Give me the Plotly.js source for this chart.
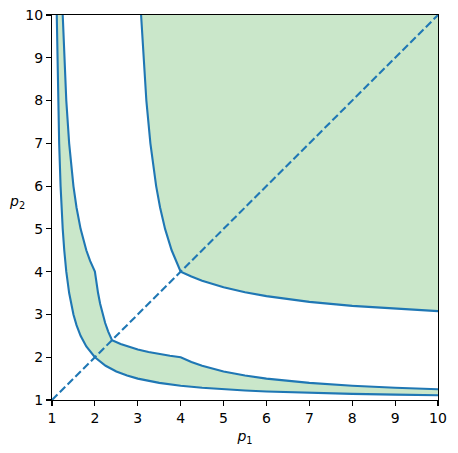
<!DOCTYPE html>
<html>
<head>
<meta charset="utf-8">
<script src="https://cdn.plot.ly/plotly-3.0.1.min.js"></script>
<style>html,body{margin:0;padding:0;background:#fff;}#chart{width:458px;height:453px;}</style>
</head>
<body>
<div id="chart"></div>
<script>
// Lower curve
var lowerX = [1.111,1.125,1.1429,1.1667,1.2,1.2222,1.25,1.2857,1.3333,1.4,1.5,1.5714,1.6667,1.8,2,2.25,2.5,2.75,3,3.5,4,4.5,5,5.5,6,7,8,9,10];
var lowerY = [10,9,8,7,6,5.5,5,4.5,4,3.5,3,2.75,2.5,2.25,2,1.8,1.6667,1.5714,1.5,1.4,1.3333,1.2857,1.25,1.2222,1.2,1.1667,1.1429,1.125,1.111];
// Middle curve (with kinks)
var middleX = [1.25,1.2857,1.3333,1.4,1.5,1.5714,1.6667,1.8,1.8889,2,2.0339,2.0741,2.1224,2.1818,2.24,2.3111,2.4,2.6,2.8,3,3.25,3.5,3.75,4,4.25,4.5,5,5.5,6,7,8,9,10];
var middleY = [10,9,8,7,6,5.5,5,4.5,4.25,4,3.75,3.5,3.25,3,2.8,2.6,2.4,2.3111,2.24,2.1818,2.1224,2.0741,2.0339,2,1.8889,1.8,1.6667,1.5714,1.5,1.4,1.3333,1.2857,1.25];
// Upper curve
var upperX = [3.0769,3.1304,3.2,3.2941,3.4286,3.52,3.6364,3.7895,3.8857,4,4.25,4.5,5,5.5,6,7,8,9,10];
var upperY = [10,9,8,7,6,5.5,5,4.5,4.25,4,3.8857,3.7895,3.6364,3.52,3.4286,3.2941,3.2,3.1304,3.0769];
// Diagonal
var diagX = [1,10];
var diagY = [1,10];
// Corner closing the upper region
var cornerX = [10];
var cornerY = [10];
var tickVals = [1,2,3,4,5,6,7,8,9,10];

var blue = '#1f77b4';
var fillC = 'rgba(44,160,44,0.25)';

var bandX = middleX.concat(lowerX.slice().reverse());
var bandY = middleY.concat(lowerY.slice().reverse());
var topX = upperX.concat(cornerX);
var topY = upperY.concat(cornerY);

var traces = [
  {x: bandX, y: bandY, mode: 'lines', fill: 'toself', fillcolor: fillC, line: {width: 0, color: 'rgba(0,0,0,0)'}, hoverinfo: 'skip'},
  {x: topX, y: topY, mode: 'lines', fill: 'toself', fillcolor: fillC, line: {width: 0, color: 'rgba(0,0,0,0)'}, hoverinfo: 'skip'},
  {x: lowerX, y: lowerY, mode: 'lines', line: {color: blue, width: 2.1}},
  {x: middleX, y: middleY, mode: 'lines', line: {color: blue, width: 2.1}},
  {x: upperX, y: upperY, mode: 'lines', line: {color: blue, width: 2.1}},
  {x: diagX, y: diagY, mode: 'lines', line: {color: blue, width: 2.1, dash: '7.7px,3.3px'}}
];

var axisCommon = {
  range: [1, 10],
  tickmode: 'array',
  tickvals: tickVals,
  ticktext: tickVals.map(String),
  ticks: 'outside',
  ticklen: 5,
  tickwidth: 1.1,
  tickcolor: '#000',
  showline: true,
  linecolor: '#000',
  linewidth: 1.1,
  mirror: true,
  showgrid: false,
  zeroline: false,
  tickfont: {family: 'DejaVu Sans', size: 14, color: '#000'}
};

var layout = {
  width: 458,
  height: 453,
  margin: {l: 52, r: 20, t: 15, b: 53},
  paper_bgcolor: '#fff',
  plot_bgcolor: '#fff',
  showlegend: false,
  xaxis: Object.assign({}, axisCommon, {
    title: {text: '<i>p</i><sub>1</sub>', font: {family: 'DejaVu Sans', size: 14, color: '#000'}, standoff: 6}
  }),
  yaxis: Object.assign({}, axisCommon, {}),
  annotations: [{
    text: '<i>p</i><sub>2</sub>',
    xref: 'paper', yref: 'paper',
    x: -0.09, y: 0.515,
    xanchor: 'center', yanchor: 'middle',
    showarrow: false,
    font: {family: 'DejaVu Sans', size: 14, color: '#000'}
  }]
};

Plotly.newPlot('chart', traces, layout, {displayModeBar: false, staticPlot: true});
</script>
</body>
</html>
